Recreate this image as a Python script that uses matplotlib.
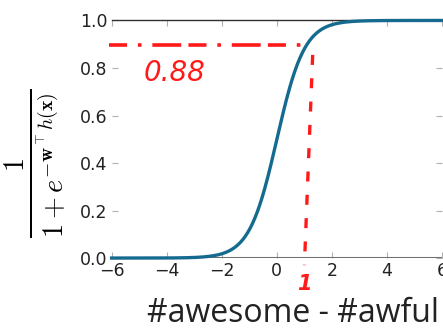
import numpy as np
import matplotlib
matplotlib.use('Agg')
import matplotlib.pyplot as plt

plt.rcParams['mathtext.fontset'] = 'cm'

# curve: sigmoid of the score, sampled on the x range
scores = np.linspace(-6, 6, 400)
weight = 2.0
prob = 1.0 / (1.0 + np.exp(-weight * scores))

x_ticks = [-6, -4, -2, 0, 2, 4, 6]
y_ticks = [0.0, 0.2, 0.4, 0.6, 0.8, 1.0]

# hand drawn guide: score 1 -> probability 0.88
guide_x = 1.0
guide_y = 0.88
guide_label = '0.88'
score_label = '1'

fig = plt.figure(figsize=(4.43, 3.30), dpi=100)
ax = fig.add_axes([0.252, 0.218, 0.746, 0.72])

ax.plot(scores, prob, color='#156b8f', lw=2.4, zorder=3, clip_on=False)
ax.axhline(0, color='#707070', lw=2.2, zorder=2)

ax.set_xlim(-6, 6)
ax.set_ylim(0, 1)
ax.set_xticks(x_ticks)
ax.set_yticks(y_ticks)
ax.set_yticklabels(['%.1f' % v for v in y_ticks])
ax.set_xticklabels(['\u2212%d' % -v if v < 0 else '%d' % v for v in x_ticks])

for side in ['left', 'right', 'bottom']:
    ax.spines[side].set_visible(False)
ax.spines['top'].set_color('#303030')
ax.spines['top'].set_linewidth(1.0)
ax.tick_params(direction='in', length=4, color='#b0b0b0', labelsize=12.5,
               labelcolor='#222222', top=True, right=True, pad=3)

ax.set_ylabel(r'$\frac{1}{1+e^{-\mathbf{w}^\top h(\mathbf{x})}}$', fontsize=29)
ax.yaxis.set_label_coords(-0.13, 0.4)
ax.set_xlabel('#awesome - #awful', family=['Open Sans', 'DejaVu Sans'],
              fontsize=23, color='#222222')
ax.xaxis.set_label_coords(0.548, -0.165)

red = '#ff1a1a'
ax.plot([-6.1, guide_x], [guide_y + 0.015, guide_y + 0.015], color=red, lw=2.6,
        ls=(0, (5, 3, 1, 3, 8, 2)), clip_on=False, zorder=4)
ax.plot([guide_x + 0.3, guide_x], [guide_y - 0.025, -0.03], color=red, lw=2.4,
        ls=(0, (3, 4)), clip_on=False, zorder=4)
ax.text(-3.7, guide_y - 0.1, guide_label, color=red, fontsize=20,
        style='italic', ha='center', va='center', family='DejaVu Sans')
ax.text(guide_x, -0.11, score_label, color=red, fontsize=15, fontweight='bold',
        style='italic', ha='center', va='center', clip_on=False, zorder=5)

fig.savefig('out.png', dpi=100)
